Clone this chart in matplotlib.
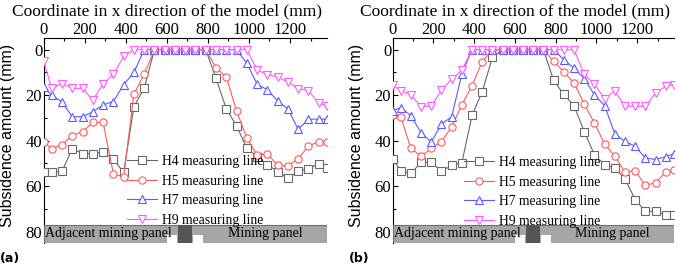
import matplotlib
matplotlib.use("Agg")
import matplotlib.pyplot as plt
from matplotlib.patches import Rectangle
from matplotlib.ticker import MultipleLocator

plt.rcParams['font.family'] = ['Liberation Serif', 'DejaVu Serif']

# measuring points along the model (mm)
x_mm = [0, 40, 90, 140, 190, 240, 290, 340, 390, 440, 490, 540, 590, 640, 690,
        740, 790, 840, 890, 940, 990, 1040, 1090, 1140, 1190, 1240, 1290, 1340, 1380]

# panel (a) subsidence (mm)
h4_a = [53.8, 53.8, 53.5, 43.5, 45.7, 45.7, 45.0, 48.0, 54.0, 25.0, 17.0, 0, 0, 0, 0,
        0, 0, 12.6, 26.0, 33.5, 43.3, 47.0, 50.5, 53.6, 56.6, 53.4, 52.4, 50.1, 52.2]
h5_a = [40.5, 43.6, 41.7, 37.8, 36.0, 32.0, 32.0, 54.5, 56.0, 19.6, 10.8, 0, 0, 0, 0,
        0, 0, 8.0, 12.0, 27.0, 38.8, 46.3, 45.8, 50.8, 51.0, 48.0, 42.4, 40.4, 40.4]
h7_a = [16.5, 20.0, 23.0, 29.5, 29.5, 27.3, 24.3, 22.8, 15.4, 10.0, 0, 0, 0, 0, 0,
        0, 0, 0, 0, 0, 6.0, 15.2, 17.6, 22.5, 26.1, 35.0, 30.6, 30.5, 30.6]
h9_a = [5.0, 17.0, 15.0, 17.0, 17.0, 22.2, 15.0, 10.8, 3.0, 0, 0, 0, 0, 0, 0,
        0, 0, 0, 0, 0, 0, 8.8, 11.0, 12.0, 14.3, 17.1, 18.0, 23.5, 24.8]

# panel (b) subsidence (mm)
h4_b = [48.0, 53.2, 54.4, 49.6, 49.6, 53.5, 50.8, 49.7, 28.8, 18.5, 3.3, 0, 0, 0, 0,
        0, 13.5, 19.7, 24.6, 36.0, 46.2, 50.5, 52.0, 56.8, 65.9, 71.1, 71.1, 72.5, 72.5]
h5_b = [28.8, 29.4, 43.4, 46.8, 43.4, 40.4, 34.0, 24.2, 15.8, 5.2, 0, 0, 0, 0, 0,
        0, 5.1, 9.8, 14.7, 23.9, 32.2, 41.5, 46.8, 53.8, 53.2, 59.7, 58.5, 53.8, 53.0]
h7_b = [26.8, 25.5, 29.0, 36.6, 40.6, 32.7, 29.5, 10.6, 0, 0, 0, 0, 0, 0, 0,
        0, 0, 4.4, 8.1, 12.7, 19.8, 24.6, 37.0, 40.3, 42.5, 47.6, 48.3, 47.0, 45.8]
h9_b = [15.7, 18.0, 19.8, 25.2, 24.7, 17.8, 13.0, 9.0, 0, 0, 0, 0, 0, 0, 0,
        0, 0, 0, 0, 10.8, 15.2, 21.5, 18.1, 24.9, 24.9, 24.9, 19.1, 16.1, 15.4]

line_names = ["H4 measuring line", "H5 measuring line", "H7 measuring line", "H9 measuring line"]
line_colors = ['#686868', '#ff5a5a', '#5a5aff', '#ff5aff']
line_markers = ['s', 'o', '^', 'v']

# strip at the bottom: adjacent panel / pillar / mining panel
pillar_mm = (655, 722)
gap_left_mm = (601, 651)
gap_right_mm = (727, 777)


def draw_panel(ax, series, legend_xy, tag):
    for vals, name, col, mk in zip(series, line_names, line_colors, line_markers):
        ax.plot(x_mm, vals, color=col, lw=0.8, marker=mk, ms=5.2,
                mfc='white', mec=col, mew=0.8, label=name, zorder=4)

    ax.set_xlim(0, 1380)
    ax.set_ylim(85, -5)

    # panel strip
    ax.add_patch(Rectangle((0, 77), 1380, 8, fc='#a6a6a6', ec='#707070', lw=0.8, zorder=5))
    ax.add_patch(Rectangle((pillar_mm[0], 77), pillar_mm[1] - pillar_mm[0], 8,
                           fc='#555555', ec='none', zorder=6))
    for g in (gap_left_mm, gap_right_mm):
        ax.add_patch(Rectangle((g[0], 81.3), g[1] - g[0], 3.6, fc='white', ec='none', zorder=6))
    ax.text(6, 81, "Adjacent mining panel", fontsize=10, va='center', ha='left', zorder=7)
    ax.text(1080, 81, "Mining panel", fontsize=10, va='center', ha='center', zorder=7)

    ax.spines['right'].set_visible(False)
    ax.spines['bottom'].set_visible(False)
    ax.xaxis.tick_top()
    ax.xaxis.set_major_locator(MultipleLocator(200))
    ax.xaxis.set_minor_locator(MultipleLocator(100))
    ax.yaxis.set_minor_locator(MultipleLocator(10))
    ax.set_yticks([0, 20, 40, 60, 80])
    ax.tick_params(axis='x', which='both', direction='in', top=True, bottom=False, labelsize=12, pad=0.5)
    ax.tick_params(axis='y', which='both', direction='in', left=True, right=False, labelsize=12, pad=1)
    ax.tick_params(which='major', length=3.5, width=0.8)
    ax.tick_params(which='minor', length=2, width=0.8)

    ax.xaxis.set_label_position('top')
    ax.set_xlabel("Coordinate in x direction of the model (mm)", fontsize=12.5)
    ax.xaxis.set_label_coords(0.434, 1.112)
    ax.set_ylabel("Subsidence amount (mm)", fontsize=11.5, family=['Liberation Sans', 'DejaVu Sans'])
    ax.yaxis.set_label_coords(-0.1, 0.525)

    ax.legend(loc='upper left', bbox_to_anchor=legend_xy, frameon=False, fontsize=9.8,
              handlelength=2.2, handletextpad=0.4, labelspacing=0.48, borderpad=0, borderaxespad=0)

    ax.text(-0.155, -0.045, tag, transform=ax.transAxes, fontsize=9, fontweight='bold',
            family=['DejaVu Sans'], va='top', ha='left')


fig = plt.figure(figsize=(6.78, 2.66), dpi=100)
ax_a = fig.add_axes([0.0642, 0.0865, 0.418, 0.7695])
ax_b = fig.add_axes([0.579, 0.0865, 0.415, 0.7695])

draw_panel(ax_a, [h4_a, h5_a, h7_a, h9_a], (0.293, 0.43), "(a)")
draw_panel(ax_b, [h4_b, h5_b, h7_b, h9_b], (0.254, 0.425), "(b)")

fig.savefig("out.png", dpi=100)
